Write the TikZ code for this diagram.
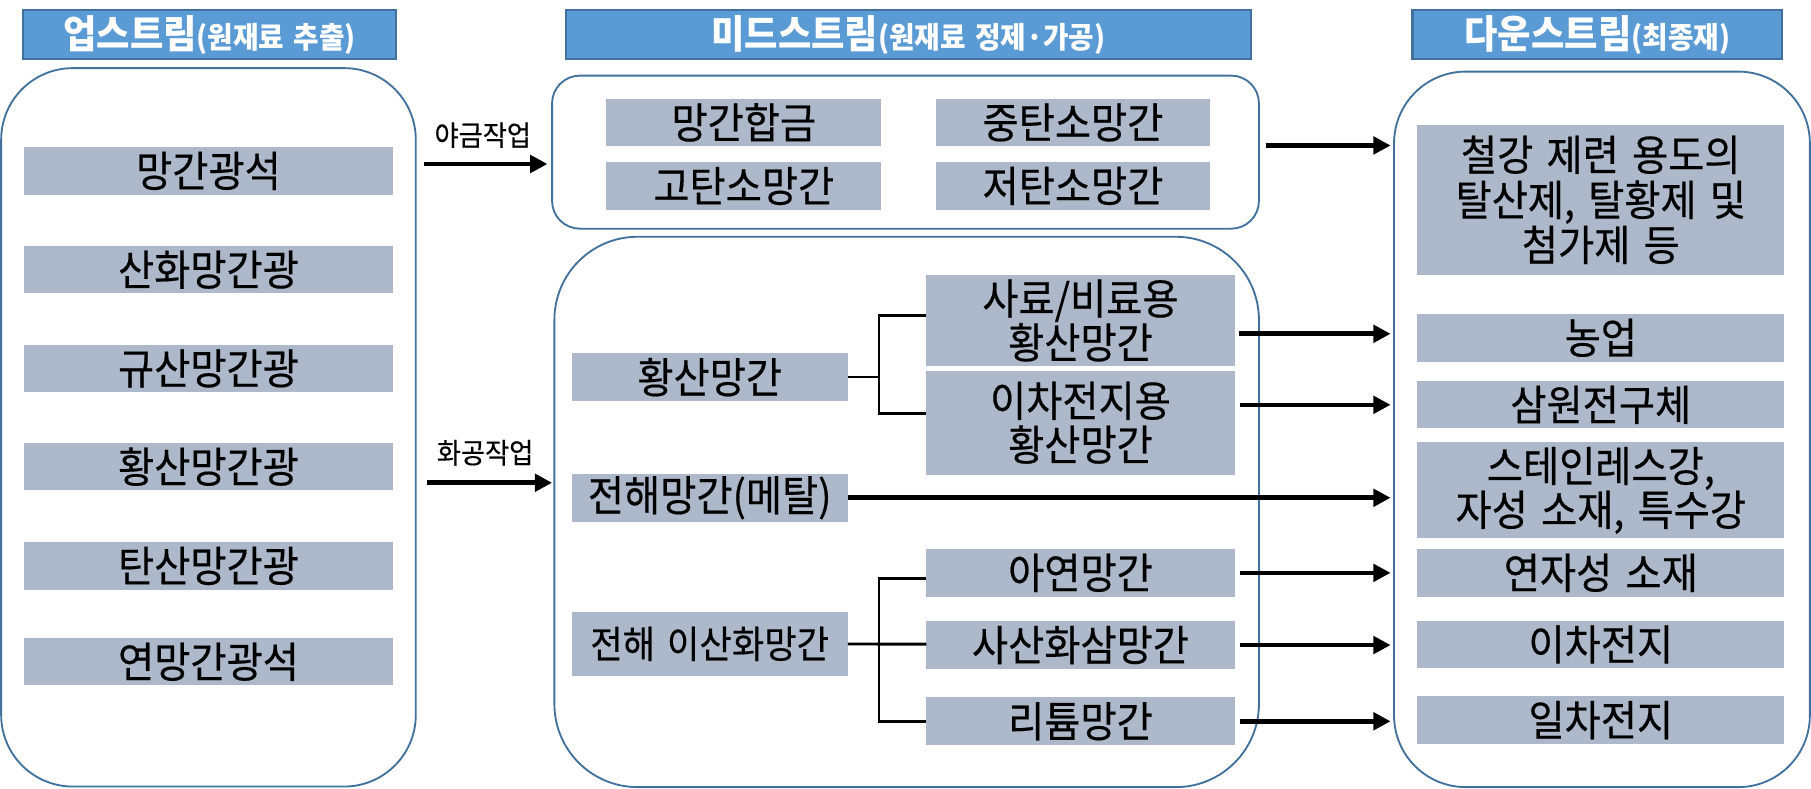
\documentclass[tikz,border=0pt]{standalone}
\usepackage{fontspec}
\setmainfont{Noto Sans CJK KR}[FakeStretch=0.93,WordSpace=1.5,UprightFeatures={FakeBold=0.4}]
\usetikzlibrary{arrows.meta,calc}
\definecolor{hdrfill}{HTML}{5B9BD5}
\definecolor{hdrline}{HTML}{41719C}
\definecolor{gfill}{HTML}{ADB9CA}
\definecolor{bline}{HTML}{41719C}
\begin{document}
\begin{tikzpicture}[x=0.5pt,y=-0.5pt,
 hdr/.style={fill=hdrfill,draw=hdrline,line width=1pt,text=white,inner sep=0pt,outer sep=0pt,font=\bfseries},
 gbox/.style={fill=gfill,inner sep=0pt,outer sep=0pt,align=center,font=\fontsize{18.3}{19}\selectfont},
 bigbox/.style={draw=bline,line width=0.8pt,inner sep=0pt,outer sep=0pt},
 arr/.style={line width=2pt,-{Triangle[length=7.5pt,width=7.5pt]}},
 conn/.style={line width=1.2pt},
 lbl/.style={font=\fontsize{12.2}{13}\selectfont,inner sep=0pt}
]
\useasboundingbox (0,0) rectangle (1568,683);

% headers
\node[hdr,minimum width=161.5pt,minimum height=21.35pt] (h1) at (181.5,30)
  {{\fontsize{16.9}{17}\selectfont 업스트림}{\fontsize{12.9}{13}\selectfont(원재료 추출)}};
\node[hdr,minimum width=296.5pt,minimum height=21.35pt] (h2) at (786.5,30)
  {{\fontsize{16.9}{17}\selectfont 미드스트림}{\fontsize{12.9}{13}\selectfont(원재료 정제·가공)}};
\node[hdr,minimum width=160pt,minimum height=21.35pt] (h3) at (1383,30)
  {{\fontsize{16.9}{17}\selectfont 다운스트림}{\fontsize{12.9}{13}\selectfont(최종재)}};

% big rounded boxes
\node[bigbox,rounded corners=31pt,minimum width=179.5pt,minimum height=311pt] (lbig) at (180.5,370) {};
\node[bigbox,rounded corners=12pt,minimum width=306pt,minimum height=66.25pt] (mtop) at (784,131.75) {};
\node[bigbox,rounded corners=36pt,minimum width=305pt,minimum height=238.25pt] (mbot) at (785,443.25) {};
\node[bigbox,rounded corners=31pt,minimum width=180pt,minimum height=309.75pt] (rbig) at (1387,371.75) {};

% upstream
\node[gbox,minimum width=159.5pt,minimum height=20.5pt] (u1) at (180.5,148) {망간광석};
\node[gbox,minimum width=159.5pt,minimum height=20.5pt] (u2) at (180.5,233.5) {산화망간광};
\node[gbox,minimum width=159.5pt,minimum height=20.5pt] (u3) at (180.5,319) {규산망간광};
\node[gbox,minimum width=159.5pt,minimum height=20.5pt] (u4) at (180.5,404) {황산망간광};
\node[gbox,minimum width=159.5pt,minimum height=20.5pt] (u5) at (180.5,490) {탄산망간광};
\node[gbox,minimum width=159.5pt,minimum height=20.5pt] (u6) at (180.5,573) {연망간광석};

% midstream top
\node[gbox,minimum width=119pt,minimum height=20.5pt] (m1) at (644,106) {망간합금};
\node[gbox,minimum width=119pt,minimum height=20.5pt] (m2) at (929,106) {중탄소망간};
\node[gbox,minimum width=119pt,minimum height=20.5pt] (m3) at (644,161) {고탄소망간};
\node[gbox,minimum width=119pt,minimum height=20.5pt] (m4) at (929,161) {저탄소망간};

% midstream bottom
\node[gbox,minimum width=119.5pt,minimum height=20.5pt] (hw) at (614.5,326.5) {황산망간};
\node[gbox,minimum width=133.5pt,minimum height=39.5pt] (sf) at (935.5,277.5) {사료/비료용\\황산망간};
\node[gbox,minimum width=133.5pt,minimum height=45pt] (ic) at (935.5,366) {이차전지용\\황산망간};
\node[gbox,minimum width=119.5pt,minimum height=20.75pt] (em) at (614.5,431) {전해망간(메탈)};
\node[gbox,minimum width=119.5pt,minimum height=27.5pt,font=\fontsize{16.4}{17}\selectfont] (ed) at (614.5,557.5) {전해 이산화망간};
\node[gbox,minimum width=133.5pt,minimum height=20.75pt] (zn) at (935.5,496) {아연망간};
\node[gbox,minimum width=133.5pt,minimum height=20.75pt] (tt) at (935.5,558.5) {사산화삼망간};
\node[gbox,minimum width=133.5pt,minimum height=20.75pt] (li) at (935.5,624.5) {리튬망간};

% downstream
\node[gbox,minimum width=159pt,minimum height=65pt,font=\fontsize{18.3}{19.5}\selectfont] (d1) at (1386,173) {철강 제련 용도의\\탈산제, 탈황제 및\\첨가제 등};
\node[gbox,minimum width=159pt,minimum height=20.5pt] (d2) at (1386,292.5) {농업};
\node[gbox,minimum width=159pt,minimum height=20.5pt] (d3) at (1386,350.5) {삼원전구체};
\node[gbox,minimum width=159pt,minimum height=41.5pt] (d4) at (1386,424.5) {스테인레스강,\\자성 소재, 특수강};
\node[gbox,minimum width=159pt,minimum height=20.75pt] (d5) at (1386,496) {연자성 소재};
\node[gbox,minimum width=159pt,minimum height=20.75pt] (d6) at (1386,558) {이차전지};
\node[gbox,minimum width=159pt,minimum height=20.75pt] (d7) at (1386,623.5) {일차전지};

% process arrows
\coordinate (a1) at (367,142);
\coordinate (a2) at (370,418);
\draw[arr] (a1) -- ([xshift=-2pt]a1 -| mtop.west);
\draw[arr] (a2) -- ([xshift=-1pt]a2 -| mbot.west);
\node[lbl] (l1) at (418,117) {야금작업};
\node[lbl] (l2) at (420,392) {화공작업};

% midstream -> downstream arrows
\draw[arr] ([xshift=3pt,yshift=2.9pt]mtop.east) -- ([xshift=-1.5pt,yshift=2.9pt]mtop.east -| rbig.west);
\draw[arr] ([xshift=2pt,yshift=1.75pt]sf.east |- d2.west) -- ([xshift=-1.5pt,yshift=1.75pt]rbig.west |- d2.west);
\draw[arr] ([xshift=2.5pt]ic.east |- d3.west) -- ([xshift=-1.5pt]rbig.west |- d3.west);
\draw[arr] (em.east) -- ([xshift=-1.5pt]rbig.west |- em.east);
\draw[arr] ([xshift=2.5pt]zn.east) -- ([xshift=-1.5pt]rbig.west |- zn.east);
\draw[arr] ([xshift=2.5pt]tt.east) -- ([xshift=-1.5pt]rbig.west |- tt.east);
\draw[arr] ([xshift=2.5pt]li.east) -- ([xshift=-1.5pt]rbig.west |- li.east);

% brackets
\coordinate (b1) at (761,326.5);
\draw[conn] (hw.east) -- (b1);
\draw[conn] ([yshift=2.25pt]sf.west) -| (b1) |- ([yshift=4pt]ic.west);
\coordinate (b2) at (761,557.7);
\draw[conn] (ed.east) -- (b2) -- (b2 -| tt.west);
\draw[conn] ([yshift=-2.3pt]zn.west) -| (b2) |- (li.west);
\end{tikzpicture}
\end{document}
